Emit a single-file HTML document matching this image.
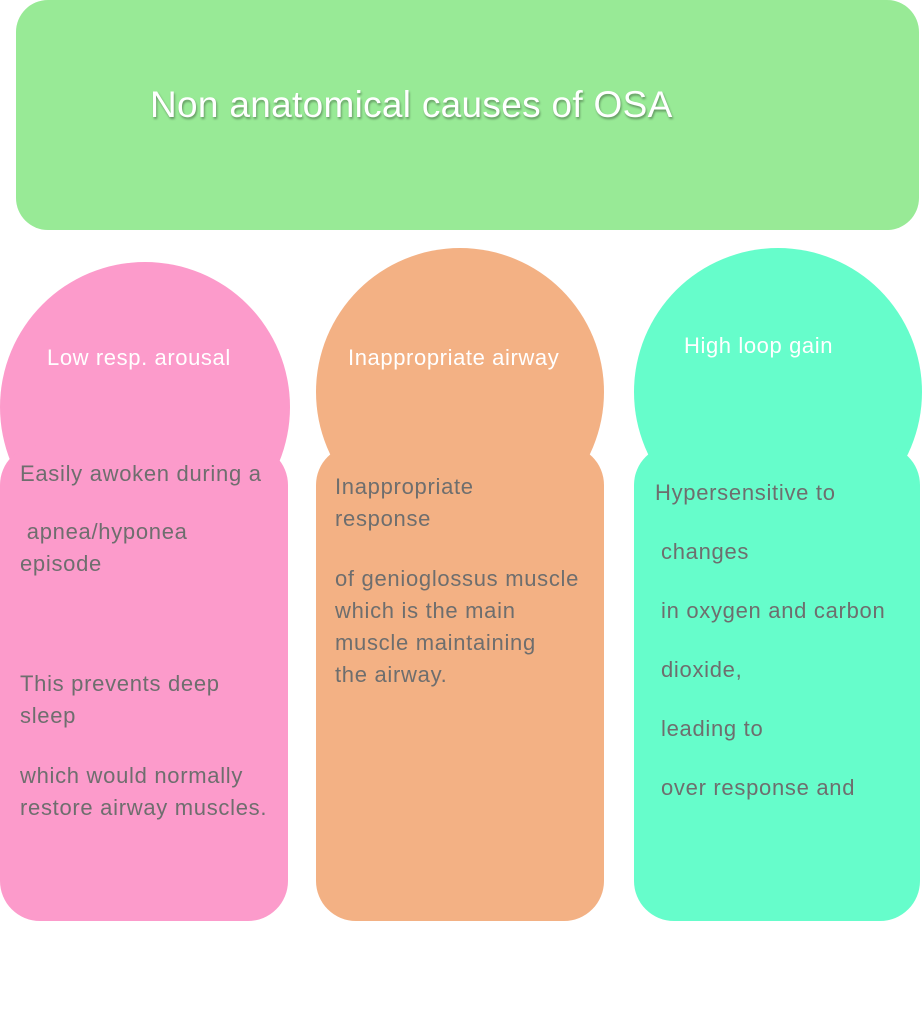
<!DOCTYPE html>
<html><head><meta charset="utf-8"><style>
body{margin:0;width:923px;height:1024px;background:#fff;position:relative;overflow:hidden;font-family:"Liberation Sans",sans-serif}
.a{position:absolute}
.t{position:absolute;color:#6e6e6e;font-size:22px;letter-spacing:0.7px;line-height:32px;white-space:nowrap}
.h{position:absolute;color:#fff;font-size:22px;letter-spacing:0.6px;white-space:nowrap}
</style></head><body>
<div class="a" style="left:16px;top:0;width:903px;height:230px;background:#98ea96;border-radius:32px"></div>
<div class="a" style="left:150px;top:84px;font-size:37px;letter-spacing:0.3px;color:#fff;text-shadow:1px 2px 2px rgba(0,0,0,.35)">Non anatomical causes of OSA</div>

<div class="a" style="left:0;top:262px;width:290px;height:290px;border-radius:50%;background:#fc9bcb"></div>
<div class="a" style="left:0;top:445px;width:288px;height:476px;border-radius:40px;background:#fc9bcb"></div>
<div class="h" style="left:47px;top:345px">Low resp. arousal</div>
<div class="t" style="left:20px;top:458px">Easily awoken during a</div>
<div class="t" style="left:20px;top:516px">&nbsp;apnea/hyponea<br>episode</div>
<div class="t" style="left:20px;top:668px">This prevents deep<br>sleep</div>
<div class="t" style="left:20px;top:760px">which would normally<br>restore airway muscles.</div>

<div class="a" style="left:316px;top:248px;width:288px;height:288px;border-radius:50%;background:#f3b184"></div>
<div class="a" style="left:316px;top:445px;width:288px;height:476px;border-radius:40px;background:#f3b184"></div>
<div class="h" style="left:348px;top:345px">Inappropriate airway</div>
<div class="t" style="left:335px;top:471px">Inappropriate<br>response</div>
<div class="t" style="left:335px;top:563px">of genioglossus muscle<br>which is the main<br>muscle maintaining<br>the airway.</div>

<div class="a" style="left:634px;top:248px;width:288px;height:288px;border-radius:50%;background:#66fdcb"></div>
<div class="a" style="left:634px;top:445px;width:286px;height:476px;border-radius:40px;background:#66fdcb"></div>
<div class="h" style="left:684px;top:333px">High loop gain</div>
<div class="t" style="left:655px;top:477px">Hypersensitive to</div>
<div class="t" style="left:661px;top:536px">changes</div>
<div class="t" style="left:661px;top:595px">in oxygen and carbon</div>
<div class="t" style="left:661px;top:654px">dioxide,</div>
<div class="t" style="left:661px;top:713px">leading to</div>
<div class="t" style="left:661px;top:772px">over response and</div>
</body></html>
